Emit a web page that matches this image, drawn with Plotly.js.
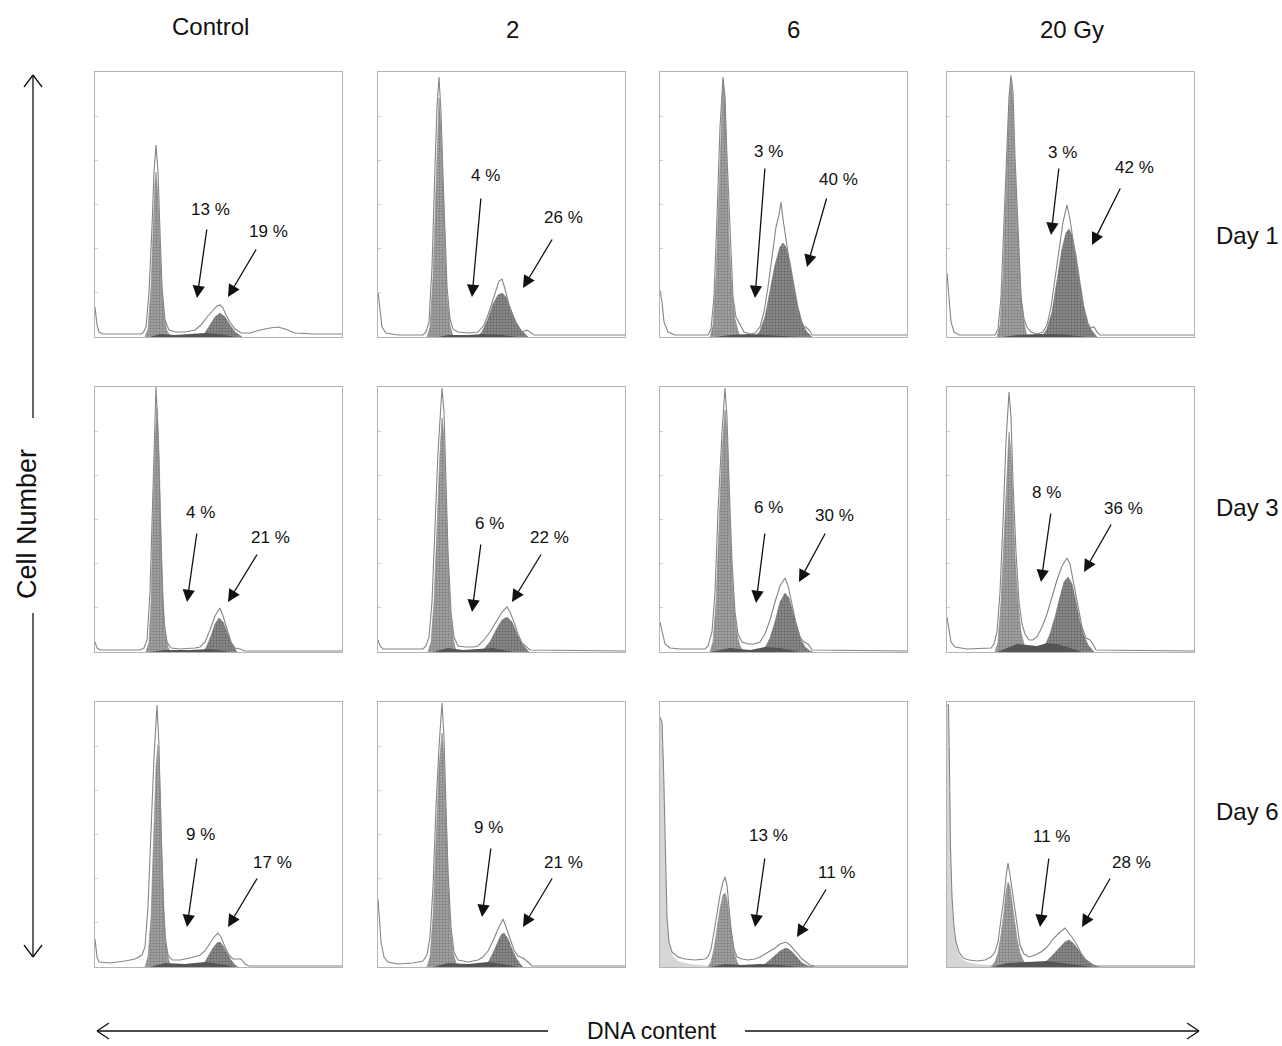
<!DOCTYPE html>
<html><head><meta charset="utf-8">
<script src="https://cdn.plot.ly/plotly-3.0.1.min.js"></script>
<style>html,body{margin:0;padding:0;background:#fff}#chart{width:1282px;height:1046px}</style>
</head><body><div id="chart"></div>
<script>
// ---------- categories & percentages ----------
const doses = ['Control', '2', '6', '20 Gy'];
const days = ['Day 1', 'Day 3', 'Day 6'];
const sPct  = [[13, 4, 3, 3], [4, 6, 6, 8], [9, 9, 13, 11]];
const g2Pct = [[19, 26, 40, 42], [21, 22, 30, 36], [17, 21, 11, 28]];

// ---------- histogram curves: [channel, count] ----------
// Day 1
const p11raw = [[0,30],[2,12],[4,5],[8,3],[45,3],[48,4],[51,10],[54,45],[57,110],[59,165],[61,192],[63,165],[65,105],[67,50],[70,17],[74,7],[80,5],[90,5],[100,7],[106,12],[112,20],[118,26],[122,31],[125,32],[128,29],[131,22],[135,15],[140,8],[146,4],[155,4],[165,7],[175,9],[183,10],[190,8],[200,4],[220,3],[247,3]];
const p11g1 = [[50,0],[53,8],[56,50],[58,110],[60,155],[61,165],[63,140],[65,90],[67,45],[69,20],[72,6],[76,0]];
const p11g2 = [[105,0],[110,4],[115,12],[120,20],[125,24],[130,20],[135,12],[140,5],[147,0]];
const p11s  = [[55,0],[65,3],[80,2],[95,3],[110,4],[125,3],[140,0]];

const p12raw = [[0,45],[2,30],[4,10],[8,4],[20,2],[45,2],[48,5],[51,15],[54,70],[57,170],[59,230],[61,260],[63,225],[65,160],[67,95],[69,50],[72,18],[75,8],[80,5],[90,4],[100,5],[106,12],[110,22],[114,35],[118,48],[121,56],[124,58],[127,48],[131,32],[135,18],[139,9],[144,5],[149,7],[152,5],[156,2],[247,2]];
const p12g1 = [[49,0],[52,10],[55,60],[58,160],[60,215],[61,239],[63,210],[65,150],[67,90],[69,40],[72,12],[75,0]];
const p12g2 = [[99,0],[104,5],[110,18],[115,33],[120,42],[124,44],[128,40],[133,28],[138,15],[143,7],[150,0]];
const p12s  = [[60,0],[70,2],[90,2],[105,3],[125,2],[140,0]];

const p13raw = [[0,47],[2,35],[4,15],[8,5],[15,2],[48,2],[51,8],[54,40],[57,120],[60,210],[63,260],[65,240],[67,180],[70,100],[73,40],[76,20],[80,12],[84,5],[90,3],[95,4],[100,10],[104,25],[108,50],[112,80],[116,110],[119,122],[121,135],[123,118],[126,98],[130,70],[134,40],[138,18],[142,11],[146,10],[150,6],[152,2],[247,2]];
const p13g1 = [[50,0],[53,12],[56,60],[59,150],[62,240],[63,257],[65,235],[67,170],[69,100],[72,45],[75,18],[78,6],[81,0]];
const p13g2 = [[95,0],[100,6],[105,20],[110,45],[115,72],[120,90],[123,94],[126,90],[130,75],[134,52],[138,30],[142,15],[146,6],[152,0]];
const p13s  = [[55,0],[70,2],[90,3],[110,2],[130,1],[140,0]];

const p14raw = [[0,64],[2,40],[4,15],[7,5],[12,2],[48,2],[51,8],[54,40],[57,120],[60,200],[62,240],[64,262],[66,245],[68,180],[71,100],[74,40],[77,18],[80,10],[84,5],[90,3],[96,5],[100,12],[104,30],[108,58],[112,90],[116,115],[120,132],[123,118],[127,90],[131,58],[135,30],[139,14],[143,9],[147,10],[150,5],[153,2],[247,2]];
const p14g1 = [[50,0],[53,12],[56,60],[59,150],[62,230],[64,258],[66,232],[68,165],[71,95],[74,40],[77,15],[80,0]];
const p14g2 = [[95,0],[100,8],[105,25],[110,55],[115,88],[119,104],[122,108],[125,102],[129,82],[133,55],[137,30],[141,14],[145,6],[150,0]];
const p14s  = [[55,0],[70,2],[90,3],[110,3],[130,1],[140,0]];

// Day 3
const p21raw = [[0,10],[2,4],[5,2],[45,2],[49,4],[52,12],[55,60],[58,170],[61,265],[63,220],[65,140],[67,70],[69,30],[72,10],[76,4],[85,3],[100,4],[105,5],[110,10],[115,22],[120,36],[125,44],[128,36],[132,22],[136,10],[140,4],[145,3],[150,1],[247,1]];
const p21g1 = [[51,0],[54,10],[56,50],[58,130],[60,210],[62,244],[64,200],[66,120],[68,55],[70,20],[73,5],[75,0]];
const p21g2 = [[108,0],[112,6],[116,16],[120,28],[124,34],[128,30],[132,20],[136,10],[140,3],[142,0]];
const p21s  = [[55,0],[70,2],[95,2],[115,3],[135,0]];

const p22raw = [[0,12],[2,6],[5,3],[45,3],[48,6],[51,15],[54,50],[57,130],[60,200],[64,264],[66,240],[68,170],[70,100],[73,40],[76,15],[80,6],[88,5],[95,5],[100,6],[106,12],[112,20],[118,30],[124,40],[129,45],[132,40],[136,30],[140,18],[144,9],[148,5],[152,2],[247,1]];
const p22g1 = [[50,0],[53,10],[56,50],[59,130],[62,200],[64,234],[66,215],[68,150],[70,90],[72,45],[75,15],[78,0]];
const p22g2 = [[101,0],[106,3],[112,10],[118,22],[124,32],[129,35],[134,30],[139,18],[144,8],[148,3],[151,0]];
const p22s  = [[55,0],[70,4],[85,2],[100,3],[115,4],[135,0]];

const p23raw = [[0,30],[2,20],[5,8],[10,4],[20,3],[45,3],[48,6],[52,20],[55,60],[58,140],[62,220],[65,264],[67,235],[69,170],[72,90],[75,40],[78,18],[82,10],[88,8],[94,8],[100,10],[105,18],[110,32],[115,50],[120,66],[125,74],[128,66],[132,48],[136,28],[140,15],[144,10],[148,8],[152,2],[247,1]];
const p23g1 = [[50,0],[53,10],[56,50],[59,130],[62,200],[65,242],[67,220],[69,160],[71,100],[74,45],[77,18],[80,6],[84,0]];
const p23g2 = [[100,0],[105,4],[110,14],[115,30],[120,50],[125,59],[129,54],[133,40],[137,24],[141,12],[145,5],[150,1],[153,0]];
const p23s  = [[50,0],[70,4],[90,2],[105,5],[120,4],[140,0]];

const p24raw = [[0,35],[2,22],[4,10],[8,5],[20,3],[44,4],[47,8],[50,20],[53,60],[56,130],[59,210],[62,260],[64,235],[66,170],[69,100],[72,50],[75,28],[78,18],[82,12],[86,12],[90,15],[95,25],[100,38],[105,55],[110,72],[115,86],[120,94],[123,88],[127,68],[131,45],[135,25],[139,14],[143,12],[146,8],[149,2],[247,1]];
const p24g1 = [[48,0],[51,10],[54,50],[57,120],[60,190],[62,220],[64,200],[66,150],[68,95],[71,50],[74,20],[77,8],[80,0]];
const p24g2 = [[94,0],[98,6],[103,18],[108,35],[113,55],[117,70],[121,75],[125,68],[129,50],[133,30],[137,16],[141,7],[147,0]];
const p24s  = [[50,0],[60,4],[70,8],[80,7],[90,6],[100,9],[110,8],[120,5],[135,0]];

// Day 6
const p31raw = [[0,28],[2,10],[4,5],[15,4],[30,6],[40,8],[47,12],[50,20],[53,60],[56,140],[59,210],[62,262],[64,220],[66,140],[68,70],[70,30],[73,12],[77,7],[85,7],[95,9],[105,12],[110,16],[115,24],[119,30],[123,34],[126,30],[130,20],[134,12],[138,8],[142,8],[146,8],[150,3],[154,1],[247,1]];
const p31g1 = [[50,0],[53,10],[56,50],[59,140],[61,200],[63,222],[65,180],[67,110],[69,55],[71,22],[74,6],[76,0]];
const p31g2 = [[106,0],[110,5],[114,12],[118,19],[122,24],[125,25],[128,21],[132,14],[136,7],[140,2],[143,0]];
const p31s  = [[55,0],[70,4],[90,3],[110,5],[125,3],[140,0]];

const p32raw = [[0,68],[1.5,50],[3,25],[6,10],[10,5],[20,3],[35,4],[45,6],[49,12],[52,30],[55,80],[58,160],[61,220],[64,264],[66,230],[68,160],[70,95],[73,40],[76,15],[80,7],[90,5],[100,7],[105,10],[110,16],[115,26],[120,38],[125,48],[128,40],[132,28],[136,17],[140,11],[145,9],[150,5],[154,1],[247,1]];
const p32g1 = [[49,0],[52,10],[55,50],[58,130],[61,200],[64,234],[66,210],[68,150],[70,90],[72,45],[75,15],[79,0]];
const p32g2 = [[107,0],[111,6],[115,14],[119,24],[123,32],[126,34],[130,28],[134,18],[138,9],[142,3],[145,0]];
const p32s  = [[55,0],[70,4],[90,3],[110,5],[125,3],[140,0]];

const p33raw = [[0,250],[2,245],[3.5,200],[5,120],[7,50],[9,25],[12,15],[18,10],[25,8],[35,7],[45,8],[48,10],[51,18],[54,35],[57,55],[60,72],[63,85],[65,90],[67,82],[69,60],[71,38],[74,18],[77,10],[82,8],[88,7],[95,8],[100,10],[105,13],[110,16],[115,19],[120,23],[126,25],[130,22],[134,17],[138,12],[142,8],[146,5],[150,2],[155,1],[247,1]];
const p33g1 = [[48,0],[51,5],[54,18],[57,38],[60,58],[63,72],[65,74],[67,68],[69,52],[71,35],[74,15],[77,5],[80,0]];
const p33g2 = [[98,0],[105,3],[110,7],[115,12],[120,16],[126,19],[130,17],[134,13],[138,8],[142,4],[148,1],[155,0]];
const p33s  = [[50,0],[65,3],[80,2],[100,3],[120,2],[140,0]];
const p33deb = [[0,0],[0,250],[2,245],[3.5,200],[5,120],[7,50],[9,25],[12,12],[18,6],[30,3],[50,1],[70,0]];

const p34raw = [[0,262],[1.5,262],[2.5,200],[3.5,120],[5,70],[7,40],[9,25],[12,15],[16,9],[22,7],[30,6],[38,7],[44,10],[48,15],[51,25],[54,45],[57,70],[59,90],[61,104],[63,92],[65,78],[67,60],[70,38],[73,22],[77,13],[82,10],[88,12],[94,15],[100,20],[106,28],[112,34],[118,39],[121,35],[125,30],[130,22],[134,14],[138,8],[142,5],[146,2],[150,1],[247,1]];
const p34g1 = [[44,0],[48,5],[51,14],[54,32],[57,55],[59,75],[61,85],[63,80],[65,65],[67,48],[70,28],[73,14],[77,5],[81,0]];
const p34g2 = [[90,0],[96,3],[102,8],[108,14],[113,20],[118,25],[122,27],[126,24],[130,19],[134,13],[138,8],[143,4],[148,1],[153,0]];
const p34s  = [[45,0],[60,4],[80,5],[100,6],[115,4],[130,2],[145,0]];
const p34deb = [[0,0],[0,262],[1.5,262],[2.5,190],[4,100],[6,50],[8,28],[11,15],[15,8],[20,5],[30,3],[45,2],[60,0]];

const RAW = [[p11raw,p12raw,p13raw,p14raw],[p21raw,p22raw,p23raw,p24raw],[p31raw,p32raw,p33raw,p34raw]];
const G1  = [[p11g1,p12g1,p13g1,p14g1],[p21g1,p22g1,p23g1,p24g1],[p31g1,p32g1,p33g1,p34g1]];
const G2  = [[p11g2,p12g2,p13g2,p14g2],[p21g2,p22g2,p23g2,p24g2],[p31g2,p32g2,p33g2,p34g2]];
const SPH = [[p11s,p12s,p13s,p14s],[p21s,p22s,p23s,p24s],[p31s,p32s,p33s,p34s]];
const DEB = [[null,null,null,null],[null,null,null,null],[null,null,p33deb,p34deb]];

// ---------- layout geometry (pixels) ----------
const W = 1282, H = 1046;
const colLeft = [95, 378, 660, 947], rowTop = [72, 387, 702];
const PW = 247, PH = 265;
// per panel: [lab1 x,y, lab2 x,y, arrow1 tail x,y, tip x,y, arrow2 tail x,y, tip x,y] in panel units
const annPos = [
  [[115,128,173,106,112,109,102,39,162,89,133,40],
   [107,162,185,120,103,140,94,40,175,99,145,49],
   [108,186,178,158,105,170,95,39,167,140,147,70],
   [115,185,187,170,112,170,104,102,174,150,145,92]],
  [[105,140,175,115,102,120,92,50,163,99,133,50],
   [111,129,171,115,103,109,94,40,164,99,134,50],
   [108,145,174,137,105,120,96,49,166,120,139,70],
   [99,160,176,144,104,140,94,70,165,129,137,80]],
  [[105,133,177,105,102,110,92,40,163,90,133,40],
   [110,140,185,105,113,120,104,50,175,90,145,40],
   [108,132,177,95,105,110,95,40,167,79,137,30],
   [105,131,184,105,102,110,93,40,164,90,135,40]]
];

const FONT = 'Liberation Sans, Arial, sans-serif';
const px = v => v / W, py = v => 1 - v / H;
const xs = a => a.map(p => p[0]), ys = a => a.map(p => p[1]);

const traces = [];
const layout = {
  width: W, height: H, margin: {l: 0, r: 0, t: 0, b: 0},
  paper_bgcolor: '#fff', plot_bgcolor: '#fff', showlegend: false,
  annotations: [], shapes: []
};

for (let r = 0; r < 3; r++) {
  for (let c = 0; c < 4; c++) {
    const k = r * 4 + c;
    const id = k === 0 ? '' : String(k + 1);
    const xa = 'x' + id, ya = 'y' + id;
    const L = colLeft[c], T = rowTop[r];
    layout['xaxis' + id] = {
      domain: [px(L), px(L + PW)], range: [0, PW], anchor: ya,
      showgrid: false, zeroline: false, showticklabels: false, ticks: '',
      showline: true, mirror: true, linecolor: '#b4b4b4', linewidth: 1, fixedrange: true
    };
    layout['yaxis' + id] = {
      domain: [py(T + PH), py(T)], range: [0, PH], anchor: xa,
      showgrid: false, zeroline: false, showticklabels: false,
      ticks: 'inside', ticklen: 3, tickcolor: '#cfcfcf', tick0: 0, dtick: PH / 6,
      showline: true, mirror: true, linecolor: '#b4b4b4', linewidth: 1, fixedrange: true
    };
    const base = {type: 'scatter', mode: 'lines', xaxis: xa, yaxis: ya, hoverinfo: 'skip'};
    if (DEB[r][c]) traces.push(Object.assign({}, base, {x: xs(DEB[r][c]), y: ys(DEB[r][c]), fill: 'toself', fillcolor: '#d6d6d6', line: {width: 0, color: '#d6d6d6'}}));
    traces.push(Object.assign({}, base, {x: xs(G1[r][c]), y: ys(G1[r][c]), fill: 'toself', fillcolor: '#989898',
      fillpattern: {shape: '.', bgcolor: '#a2a2a2', fgcolor: '#7c7c7c', size: 3, solidity: 0.35},
      line: {width: 0.6, color: '#8a8a8a'}}));
    traces.push(Object.assign({}, base, {x: xs(G2[r][c]), y: ys(G2[r][c]), fill: 'toself', fillcolor: '#7f7f7f',
      fillpattern: {shape: '.', bgcolor: '#8a8a8a', fgcolor: '#626262', size: 3, solidity: 0.35},
      line: {width: 0.6, color: '#6e6e6e'}}));
    traces.push(Object.assign({}, base, {x: xs(SPH[r][c]), y: ys(SPH[r][c]), fill: 'toself', fillcolor: '#555555', line: {width: 0, color: '#555'}}));
    traces.push(Object.assign({}, base, {x: xs(RAW[r][c]), y: ys(RAW[r][c]), line: {width: 1.1, color: '#858585'}}));

    const a = annPos[r][c];
    const txt = {xref: xa, yref: ya, xanchor: 'center', yanchor: 'middle', showarrow: false, font: {family: FONT, size: 17, color: '#111'}};
    layout.annotations.push(Object.assign({}, txt, {x: a[0], y: a[1], text: sPct[r][c] + ' %'}));
    layout.annotations.push(Object.assign({}, txt, {x: a[2], y: a[3], text: g2Pct[r][c] + ' %'}));
    const arr = {xref: xa, yref: ya, axref: xa, ayref: ya, text: '', showarrow: true,
      arrowhead: 2, arrowsize: 1.9, arrowwidth: 1.3, arrowcolor: '#111', standoff: 0};
    layout.annotations.push(Object.assign({}, arr, {ax: a[4], ay: a[5], x: a[6], y: a[7]}));
    layout.annotations.push(Object.assign({}, arr, {ax: a[8], ay: a[9], x: a[10], y: a[11]}));
  }
}

// column headers & row labels
const lab = {xref: 'paper', yref: 'paper', xanchor: 'center', yanchor: 'middle', showarrow: false, borderpad: 0};
const headerPos = [[210, 27], [512, 30], [793, 30], [1072, 30]];
doses.forEach((d, i) => layout.annotations.push(Object.assign({}, lab, {x: px(headerPos[i][0]), y: py(headerPos[i][1]),
  text: d, font: {family: FONT, size: 24, color: '#111'}})));
const dayPos = [[1247, 235], [1247, 507], [1247, 811]];
days.forEach((d, i) => layout.annotations.push(Object.assign({}, lab, {x: px(dayPos[i][0]), y: py(dayPos[i][1]),
  text: d, font: {family: FONT, size: 24, color: '#111'}})));
layout.annotations.push(Object.assign({}, lab, {x: px(27), y: py(524), text: 'Cell Number', textangle: -90,
  font: {family: FONT, size: 27, color: '#111'}}));
layout.annotations.push(Object.assign({}, lab, {x: px(652), y: py(1031), text: 'DNA content',
  font: {family: FONT, size: 23, color: '#111'}}));

// outer axis arrows
const ln = (x0, y0, x1, y1) => ({type: 'line', xref: 'paper', yref: 'paper', x0: px(x0), y0: py(y0), x1: px(x1), y1: py(y1),
  line: {color: '#111', width: 1.3}});
layout.shapes.push(ln(33, 75, 33, 418), ln(24, 87, 33, 75), ln(42, 87, 33, 75));
layout.shapes.push(ln(33, 613, 33, 957), ln(24, 945, 33, 957), ln(42, 945, 33, 957));
layout.shapes.push(ln(97, 1031, 548, 1031), ln(109, 1023, 97, 1031), ln(109, 1039, 97, 1031));
layout.shapes.push(ln(745, 1031, 1199, 1031), ln(1187, 1023, 1199, 1031), ln(1187, 1039, 1199, 1031));

Plotly.newPlot('chart', traces, layout, {staticPlot: true, displayModeBar: false});
</script>
</body></html>
